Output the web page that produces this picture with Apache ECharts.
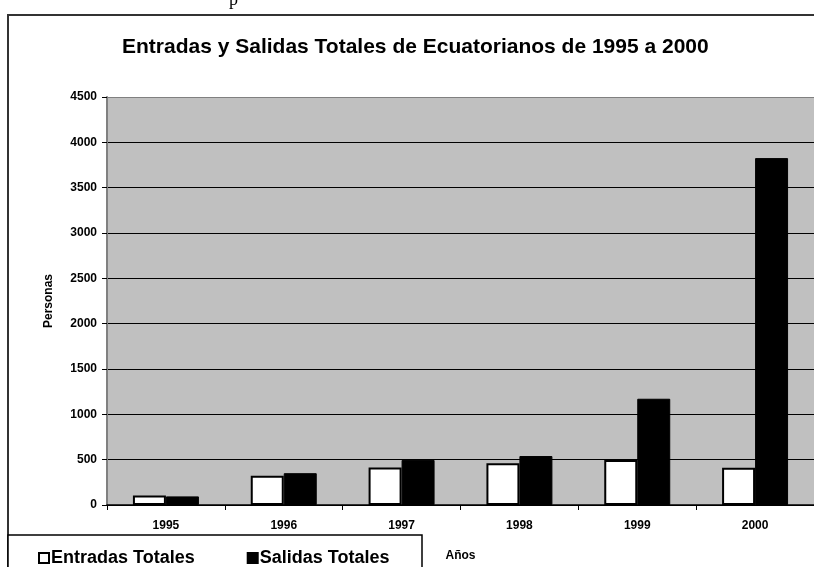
<!DOCTYPE html>
<html>
<head>
<meta charset="utf-8">
<script src="https://cdn.jsdelivr.net/npm/echarts@6/dist/echarts.min.js"></script>
<style>
  html, body { margin: 0; padding: 0; background: #fff; }
  #chart { width: 814px; height: 567px; }
</style>
</head>
<body>
<div id="chart"></div>
<script>
const years = ['1995', '1996', '1997', '1998', '1999', '2000'];
const entradas = [105, 323, 413, 460, 497, 410];
const salidas = [95, 351, 497, 540, 1172, 3826];
const yTicks = [0, 500, 1000, 1500, 2000, 2500, 3000, 3500, 4000, 4500];

const font = "'Liberation Sans', Arial, Helvetica, sans-serif";
const chart = echarts.init(document.getElementById('chart'));

chart.setOption({
  animation: false,
  backgroundColor: '#fff',
  title: {
    text: 'Entradas y Salidas Totales de Ecuatorianos de 1995 a 2000',
    left: 117,
    top: 32,
    textStyle: { fontSize: 21, fontWeight: 'bold', color: '#000', fontFamily: font }
  },
  legend: {
    data: ['Entradas Totales', 'Salidas Totales'],
    left: 33,
    top: 544,
    itemWidth: 10,
    itemHeight: 10,
    itemGap: 52,
    icon: 'rect',
    z: 10,
    textStyle: { fontSize: 18, fontWeight: 'bold', color: '#000', fontFamily: font, padding: [0, 0, 0, -3] }
  },
  graphic: [
    {
      type: 'rect', z: -1, silent: true,
      shape: { x: 8, y: 15, width: 900, height: 700 },
      style: { fill: null, stroke: '#333', lineWidth: 2 }
    },
    {
      type: 'rect', z: 5, silent: true,
      shape: { x: 8, y: 535, width: 414, height: 60 },
      style: { fill: '#fff', stroke: '#000', lineWidth: 1.5 }
    },
    {
      type: 'text', z: 5, silent: true,
      left: 229, top: -9,
      style: { text: 'p', font: "18px 'Liberation Serif', 'Times New Roman', serif", fill: '#000' }
    }
  ],
  grid: {
    left: 107, top: 97, width: 710, height: 412,
    show: true,
    backgroundColor: '#c0c0c0',
    borderWidth: 0
  },
  xAxis: {
    type: 'category',
    data: years,
    name: 'Años',
    nameLocation: 'middle',
    nameGap: 45,
    nameTextStyle: { fontSize: 12, fontWeight: 'bold', color: '#000', fontFamily: font },
    axisLine: { lineStyle: { color: '#000', width: 1.5 } },
    axisTick: { show: true, length: 5, lineStyle: { color: '#000' } },
    axisLabel: { margin: 15, fontSize: 12, fontWeight: 'bold', color: '#000', fontFamily: font },
    splitLine: { show: false }
  },
  yAxis: {
    type: 'value',
    min: 0,
    max: 4500,
    interval: 500,
    name: 'Personas',
    nameLocation: 'middle',
    nameRotate: 90,
    nameGap: 52,
    nameTextStyle: { fontSize: 12, fontWeight: 'bold', color: '#000', fontFamily: font },
    axisLine: { show: true, lineStyle: { color: '#808080', width: 2 } },
    axisTick: { show: true, length: 5, lineStyle: { color: '#000' } },
    axisLabel: {
      margin: 10, fontSize: 12, fontWeight: 'bold', color: '#000', fontFamily: font,
      formatter: v => String(v)
    },
    splitLine: {
      show: true,
      lineStyle: {
        color: yTicks.map(v => (v === 4500 ? '#808080' : '#000')),
        width: 1.2
      }
    }
  },
  series: [
    {
      name: 'Entradas Totales',
      type: 'bar',
      data: entradas,
      barGap: '0%',
      barCategoryGap: '44%',
      itemStyle: { color: '#fff', borderColor: '#000', borderWidth: 2 }
    },
    {
      name: 'Salidas Totales',
      type: 'bar',
      data: salidas,
      itemStyle: { color: '#000', borderColor: '#000', borderWidth: 1 }
    }
  ]
});
</script>
</body>
</html>
